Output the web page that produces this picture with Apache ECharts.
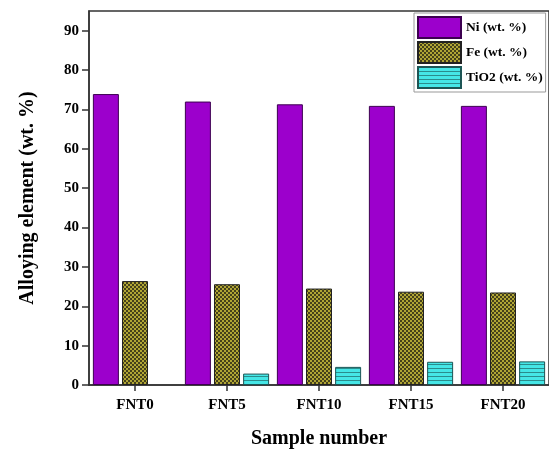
<!DOCTYPE html>
<html><head><meta charset="utf-8">
<script src="https://cdn.jsdelivr.net/npm/echarts@6/dist/echarts.min.js"></script>
<style>html,body{margin:0;padding:0;background:#fff}#c{width:549px;height:454px}</style>
</head><body><div id="c"></div>
<script>
const categories = ['FNT0', 'FNT5', 'FNT10', 'FNT15', 'FNT20'];
const seriesNames = ['Ni (wt. %)', 'Fe (wt. %)', 'TiO2 (wt. %)'];
const niValues = [73.9, 72.0, 71.3, 70.9, 70.9];
const feValues = [26.4, 25.6, 24.5, 23.7, 23.5];
const tio2Values = [null, 2.9, 4.6, 5.9, 6.0];
const yTicks = [0, 10, 20, 30, 40, 50, 60, 70, 80, 90];

function fePattern() {
  const c = document.createElement('canvas'); c.width = 4; c.height = 4;
  const g = c.getContext('2d');
  g.fillStyle = '#b0a535'; g.fillRect(0, 0, 4, 4);
  g.fillStyle = '#45411a'; g.fillRect(0, 0, 2, 2); g.fillRect(2, 2, 2, 2);
  return c;
}
function tiPattern() {
  const c = document.createElement('canvas'); c.width = 4; c.height = 4;
  const g = c.getContext('2d');
  g.fillStyle = '#45e6e6'; g.fillRect(0, 0, 4, 4);
  g.fillStyle = '#2a8c8c'; g.fillRect(0, 0, 4, 1);
  return c;
}

const font = '"Liberation Serif", "Times New Roman", serif';
const chart = echarts.init(document.getElementById('c'), null, {renderer: 'canvas'});
chart.setOption({
  animation: false,
  backgroundColor: '#fff',
  grid: {left: 89, top: 11, width: 463, height: 374, show: true, borderColor: '#333', borderWidth: 1.5, backgroundColor: 'transparent'},
  legend: {
    orient: 'vertical', left: 414, top: 13,
    padding: [3, 3, 3, 3], itemGap: 2, itemWidth: 43, itemHeight: 21,
    borderColor: '#999', borderWidth: 1, backgroundColor: '#fff',
    icon: 'rect',
    textStyle: {fontFamily: font, fontWeight: 'bold', fontSize: 13.5, color: '#000'},
    data: seriesNames
  },
  xAxis: {
    type: 'category', data: categories, boundaryGap: true,
    name: 'Sample number', nameLocation: 'middle', nameGap: 44,
    nameTextStyle: {fontFamily: font, fontWeight: 'bold', fontSize: 20, color: '#000'},
    axisLine: {lineStyle: {color: '#333', width: 1.5}},
    axisTick: {show: true, alignWithLabel: true, length: 6, lineStyle: {color: '#333', width: 1.5}},
    axisLabel: {fontFamily: font, fontWeight: 'bold', fontSize: 15, color: '#000', margin: 13},
    splitLine: {show: false}
  },
  yAxis: {
    type: 'value', min: 0, max: 95, interval: 10,
    name: 'Alloying element (wt. %)', nameLocation: 'middle', nameGap: 51,
    nameTextStyle: {fontFamily: font, fontWeight: 'bold', fontSize: 20, color: '#000'},
    axisLine: {show: true, lineStyle: {color: '#333', width: 1.5}},
    axisTick: {show: true, length: 7, customValues: yTicks, lineStyle: {color: '#333', width: 1.5}},
    axisLabel: {fontFamily: font, fontWeight: 'bold', fontSize: 15, color: '#000', margin: 10, customValues: yTicks},
    splitLine: {show: false}
  },
  series: [
    {name: seriesNames[0], type: 'bar', data: niValues, barWidth: 26, barGap: '12%',
     itemStyle: {color: '#9c00cc', borderColor: '#3c0050', borderWidth: 1}},
    {name: seriesNames[1], type: 'bar', data: feValues, barWidth: 26, barGap: '12%',
     itemStyle: {color: {image: fePattern(), repeat: 'repeat'}, borderColor: '#222', borderWidth: 1}},
    {name: seriesNames[2], type: 'bar', data: tio2Values, barWidth: 26, barGap: '12%',
     itemStyle: {color: {image: tiPattern(), repeat: 'repeat'}, borderColor: '#1d5555', borderWidth: 1}}
  ]
});
</script>
</body></html>
